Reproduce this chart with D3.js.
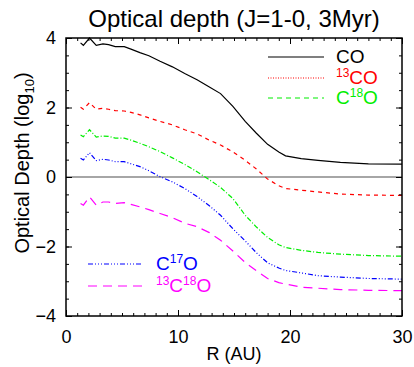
<!DOCTYPE html>
<html>
<head>
<meta charset="utf-8">
<script src="https://cdn.jsdelivr.net/npm/d3@7"></script>
<style>
  body { margin: 0; background: #fff; }
  text { font-family: "Liberation Sans", Arial, sans-serif; }
</style>
</head>
<body>
<div id="chart"></div>
<script>
// radius (AU) and log10 optical depth per isotopologue
var radius = [1.3, 1.55, 2.1, 2.7, 3.3, 3.8, 4.4, 5.2, 5.8, 6.6, 7.4, 8.4, 9.5, 10.6,
  11.7, 12.8, 13.8, 14.9, 16.0, 17.0, 18.0, 19.0, 19.6, 21.0, 22.5, 24.5, 27.0, 30.0];
var tauCO = [3.86, 3.79, 4.0, 3.79, 3.83, 3.81, 3.75, 3.75, 3.68, 3.58, 3.49, 3.33, 3.17, 2.98,
  2.80, 2.59, 2.40, 2.03, 1.60, 1.26, 0.94, 0.72, 0.61, 0.53, 0.48, 0.42, 0.38, 0.37];
var tau13CO = [2.01, 1.95, 2.14, 1.95, 1.98, 1.95, 1.91, 1.90, 1.86, 1.79, 1.70, 1.60, 1.50, 1.36,
  1.24, 1.06, 0.92, 0.72, 0.48, 0.23, -0.06, -0.25, -0.33, -0.38, -0.43, -0.49, -0.52, -0.53];
var tauC18O = [1.21, 1.16, 1.36, 1.15, 1.18, 1.17, 1.12, 1.12, 1.06, 0.97, 0.87, 0.73, 0.55, 0.36,
  0.15, -0.08, -0.30, -0.62, -1.10, -1.44, -1.74, -1.95, -2.03, -2.11, -2.17, -2.22, -2.26, -2.28];
var tauC17O = [0.54, 0.49, 0.70, 0.47, 0.51, 0.49, 0.44, 0.44, 0.38, 0.30, 0.18, 0.01, -0.14, -0.33,
  -0.56, -0.83, -1.10, -1.49, -1.84, -2.18, -2.47, -2.62, -2.69, -2.76, -2.84, -2.88, -2.92, -2.94];
var tau13C18O = [-0.76, -0.81, -0.57, -0.81, -0.72, -0.72, -0.76, -0.74, -0.79, -0.86, -0.94, -1.05, -1.17, -1.33,
  -1.43, -1.60, -1.82, -2.13, -2.46, -2.70, -2.92, -3.04, -3.08, -3.17, -3.20, -3.24, -3.26, -3.27];

var xTicks = [0, 10, 20, 30];
var yTicks = [-4, -2, 0, 2, 4];

var svgWidth = 414;
var svgHeight = 367;
var margin = { top: 38, right: 12, bottom: 51, left: 66 };
var width = svgWidth - margin.left - margin.right;
var height = svgHeight - margin.top - margin.bottom;

var svg = d3.select("#chart").append("svg")
  .attr("width", svgWidth)
  .attr("height", svgHeight);

var chartGroup = svg.append("g")
  .attr("transform", `translate(${margin.left}, ${margin.top})`);

var x = d3.scaleLinear().domain([0, 30]).range([0, width]);
var y = d3.scaleLinear().domain([-4, 4]).range([height, 0]);

// series table: name parts are [text, superscript?]
var series = [
  { vals: tauCO, color: "#000000", dash: null, legDash: null, label: [["CO", false]] },
  { vals: tau13CO, color: "#ff0000", dash: "4,4", legDash: "1,1.5", label: [["13", true], ["CO", false]] },
  { vals: tauC18O, color: "#00ee00", dash: "5,2,1,2", legDash: "5,4", label: [["C", false], ["18", true], ["O", false]] },
  { vals: tauC17O, color: "#0000ff", dash: "5,2,1,2,1,2,1,2", legDash: "5,2,1,2,1,2,1,2", label: [["C", false], ["17", true], ["O", false]] },
  { vals: tau13C18O, color: "#ff00ff", dash: "9,6", legDash: "9,6", label: [["13", true], ["C", false], ["18", true], ["O", false]] }
];

// zero line
chartGroup.append("line")
  .attr("x1", 0).attr("x2", width)
  .attr("y1", y(0)).attr("y2", y(0))
  .attr("stroke", "#888")
  .attr("stroke-width", 1.5);

var line = d3.line()
  .x((d, i) => x(radius[i]))
  .y(d => y(d));

series.forEach(function(s) {
  chartGroup.append("path")
    .datum(s.vals)
    .attr("d", line)
    .attr("fill", "none")
    .attr("stroke", s.color)
    .attr("stroke-width", 1.2)
    .attr("stroke-dasharray", s.dash);
});

// axes, ticks pointing inward on all four sides
function styleAxis(g) {
  g.select(".domain").remove();
  g.selectAll("line").attr("stroke", "#000").attr("stroke-width", 1);
  g.selectAll("text").style("font-size", "18px").attr("fill", "#000");
}

var xMinor = d3.range(0, 31, 1);
var yMinor = d3.range(-4, 4.01, 0.5);

chartGroup.append("g")
  .attr("transform", `translate(0, ${height})`)
  .call(d3.axisBottom(x).tickValues(xMinor).tickSize(-3).tickFormat(""))
  .call(styleAxis);
chartGroup.append("g")
  .attr("transform", `translate(0, ${height})`)
  .call(d3.axisBottom(x).tickValues(xTicks).tickSize(-6).tickPadding(14).tickFormat(d3.format("d")))
  .call(styleAxis);
chartGroup.append("g")
  .call(d3.axisTop(x).tickValues(xMinor).tickSize(-3).tickFormat(""))
  .call(styleAxis);
chartGroup.append("g")
  .call(d3.axisTop(x).tickValues(xTicks).tickSize(-6).tickFormat(""))
  .call(styleAxis);

chartGroup.append("g")
  .call(d3.axisLeft(y).tickValues(yMinor).tickSize(-3).tickFormat(""))
  .call(styleAxis);
chartGroup.append("g")
  .call(d3.axisLeft(y).tickValues(yTicks).tickSize(-6).tickPadding(10).tickFormat(d3.format("d")))
  .call(styleAxis);
chartGroup.append("g")
  .attr("transform", `translate(${width}, 0)`)
  .call(d3.axisRight(y).tickValues(yMinor).tickSize(-3).tickFormat(""))
  .call(styleAxis);
chartGroup.append("g")
  .attr("transform", `translate(${width}, 0)`)
  .call(d3.axisRight(y).tickValues(yTicks).tickSize(-6).tickFormat(""))
  .call(styleAxis);

// frame
chartGroup.append("rect")
  .attr("width", width).attr("height", height)
  .attr("fill", "none")
  .attr("stroke", "#000")
  .attr("stroke-width", 1.5);

// title and axis labels
svg.append("text")
  .attr("x", margin.left + width / 2)
  .attr("y", 27)
  .attr("text-anchor", "middle")
  .style("font-size", "24px")
  .text("Optical depth (J=1-0, 3Myr)");

svg.append("text")
  .attr("x", margin.left + width / 2)
  .attr("y", 360)
  .attr("text-anchor", "middle")
  .style("font-size", "18px")
  .text("R (AU)");

var yLab = svg.append("text")
  .attr("transform", `translate(29, ${margin.top + height / 2 - 14}) rotate(-90)`)
  .attr("text-anchor", "middle")
  .style("font-size", "20px");
yLab.append("tspan").text("Optical Depth (log");
yLab.append("tspan").attr("dy", 5).style("font-size", "13px").text("10");
yLab.append("tspan").attr("dy", -5).text(")");

// legend (two blocks, as in the original)
var legendPos = [
  { lx1: 268, lx2: 324, ly: 57, tx: 336 },
  { lx1: 268, lx2: 324, ly: 78, tx: 336 },
  { lx1: 268, lx2: 324, ly: 98, tx: 336 },
  { lx1: 88, lx2: 143, ly: 264, tx: 156 },
  { lx1: 88, lx2: 143, ly: 286, tx: 156 }
];

series.forEach(function(s, i) {
  var p = legendPos[i];
  svg.append("line")
    .attr("x1", p.lx1).attr("x2", p.lx2)
    .attr("y1", p.ly).attr("y2", p.ly)
    .attr("stroke", s.color)
    .attr("stroke-width", 1.2)
    .attr("stroke-dasharray", s.legDash);
  var t = svg.append("text")
    .attr("x", p.tx)
    .attr("y", p.ly + 6)
    .attr("fill", s.color)
    .style("font-size", "19px");
  var shifted = false;
  s.label.forEach(function(part) {
    var ts = t.append("tspan").text(part[0]);
    if (part[1]) {
      ts.attr("dy", shifted ? 0 : -7).style("font-size", "12px");
      shifted = true;
    } else {
      ts.attr("dy", shifted ? 7 : 0);
      shifted = false;
    }
  });
});
</script>
</body>
</html>
